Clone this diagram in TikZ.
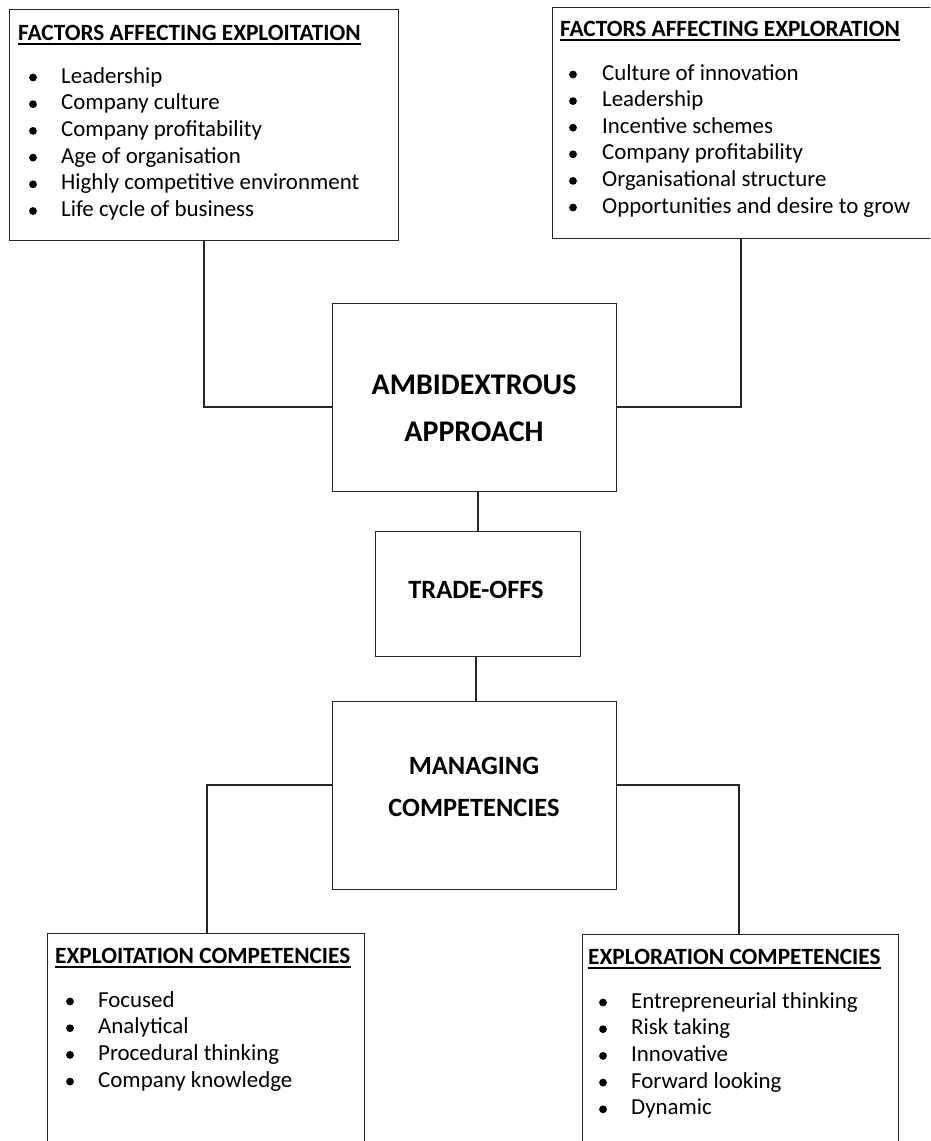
\documentclass[tikz,border=0pt]{standalone}
\usepackage{fontspec}
\setmainfont{Carlito}
\begin{document}
\begin{tikzpicture}[x=1pt,y=-1pt,
  box/.style={draw=black!85, line width=1.3pt, rectangle, inner sep=0pt, anchor=north west},
  conn/.style={draw=black!85, line width=1.1pt},
  itemtxt/.style={anchor=base west, inner sep=0pt, font=\fontsize{22.9}{26.7}\selectfont},
  titletxt/.style={anchor=base west, inner sep=0pt, font=\fontsize{23.3}{26.7}\selectfont\bfseries},
  bigtxt/.style={anchor=base, inner sep=0pt, font=\fontsize{30}{36}\selectfont\bfseries},
  midtxt/.style={anchor=base, inner sep=0pt, font=\fontsize{26.4}{32}\selectfont\bfseries},
  uline/.style={draw=black, line width=1.2pt},
  bul/.style={fill=black}
]
\useasboundingbox (0,0) rectangle (930,1141);
\clip (0,0) rectangle (930,1141);
\fill[white] (0,0) rectangle (930,1141);

% boxes
\node[box, minimum width=389pt, minimum height=231pt] (tlbox) at (9,9) {};
\node[box, minimum width=420pt, minimum height=231pt] (trbox) at (552,7) {};
\node[box, minimum width=284pt, minimum height=188pt] (ambi) at (332,303) {};
\node[box, minimum width=205pt, minimum height=125pt] (trade) at (375,531) {};
\node[box, minimum width=284pt, minimum height=188pt] (manag) at (332,701) {};
\node[box, minimum width=317pt, minimum height=240pt] (blbox) at (47,933) {};
\node[box, minimum width=316pt, minimum height=240pt] (brbox) at (582,934) {};

% central texts
\node[bigtxt] (ambi1) at (474,394) {AMBIDEXTROUS};
\node[bigtxt] (ambi2) at (474,441) {APPROACH};
\node[midtxt] (trade1) at (476,598) {TRADE-OFFS};
\node[midtxt] (manag1) at (474,774) {MANAGING};
\node[midtxt] (manag2) at (474,816) {COMPETENCIES};

% titles
\node[titletxt] (tlt) at (18,40) {FACTORS AFFECTING EXPLOITATION};
\node[titletxt] (trt) at (560,36) {FACTORS AFFECTING EXPLORATION};
\node[titletxt] (blt) at (55,963) {EXPLOITATION COMPETENCIES};
\node[titletxt] (brt) at (588,964) {EXPLORATION COMPETENCIES};
\foreach \n in {tlt,trt,blt,brt}{
  \draw[uline] ([yshift=-4pt]\n.base west) -- ([yshift=-4pt]\n.base east);
}

% lists
\foreach \t [count=\i from 0] in {Leadership, Company culture, Company profitability, Age of organisation, Highly competitive environment, Life cycle of business}{
  \node[itemtxt] (tli\i) at (61,83+26.7*\i) {\t};
  \fill[bul] (33,77.5+26.7*\i) circle (3.9pt);
}
\foreach \t [count=\i from 0] in {Culture of innovation, Leadership, Incentive schemes, Company profitability, Organisational structure, Opportunities and desire to grow}{
  \node[itemtxt] (tri\i) at (602,80+26.6*\i) {\t};
  \fill[bul] (573,74.5+26.6*\i) circle (3.9pt);
}
\foreach \t [count=\i from 0] in {Focused, Analytical, Procedural thinking, Company knowledge}{
  \node[itemtxt] (bli\i) at (98,1007+26.7*\i) {\t};
  \fill[bul] (70,1001.5+26.7*\i) circle (3.9pt);
}
\foreach \t [count=\i from 0] in {Entrepreneurial thinking, Risk taking, Innovative, Forward looking, Dynamic}{
  \node[itemtxt] (bri\i) at (631,1008+26.7*\i) {\t};
  \fill[bul] (603,1002.5+26.7*\i) circle (3.9pt);
}

% connectors
\coordinate (c1) at (204,407);
\coordinate (c2) at (741,407);
\coordinate (c3) at (478,500);
\coordinate (c4) at (476,680);
\coordinate (c5) at (207,785);
\coordinate (c6) at (739,785);
\draw[conn] (c1 |- tlbox.south) -- (c1) -- (c1 -| ambi.west);
\draw[conn] (c2 |- trbox.south) -- (c2) -- (c2 -| ambi.east);
\draw[conn] (c3 |- ambi.south) -- (c3 |- trade.north);
\draw[conn] (c4 |- trade.south) -- (c4 |- manag.north);
\draw[conn] (c5 -| manag.west) -- (c5) -- (c5 |- blbox.north);
\draw[conn] (c6 -| manag.east) -- (c6) -- (c6 |- brbox.north);
\end{tikzpicture}
\end{document}
